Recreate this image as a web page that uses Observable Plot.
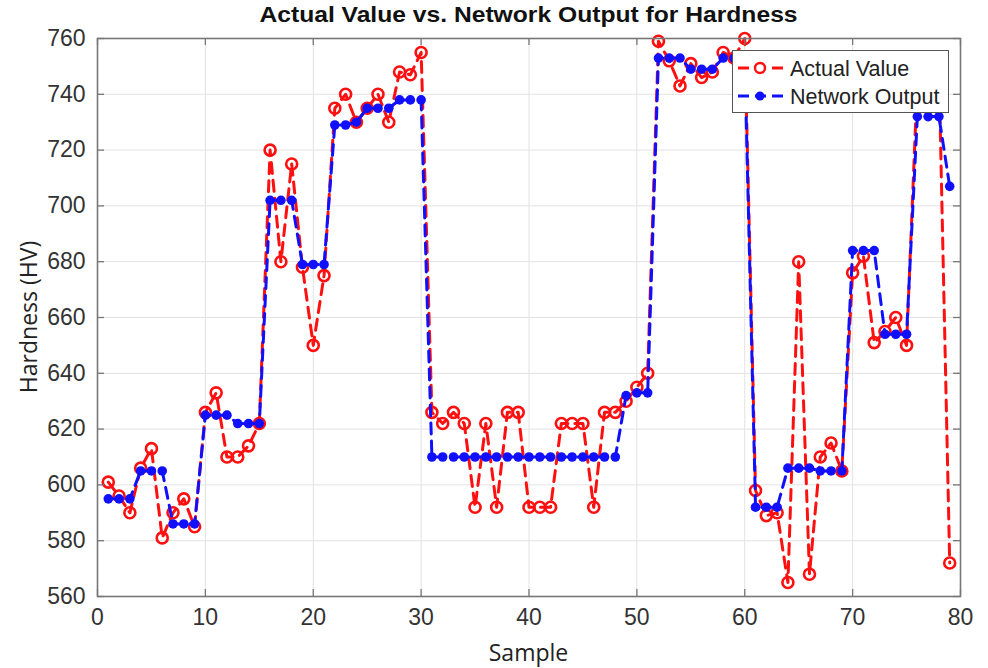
<!DOCTYPE html>
<html>
<head>
<meta charset="utf-8">
<script src="https://cdn.jsdelivr.net/npm/d3@7"></script>
<script src="https://cdn.jsdelivr.net/npm/@observablehq/plot@0.6"></script>
<style>
  body { margin: 0; background: #fff; }
  #wrap { position: relative; width: 988px; height: 668px; overflow: hidden; }
  #title { position: absolute; left: 97px; width: 863px; top: 2px; text-align: center;
           font: bold 22px "Liberation Sans", Arial, sans-serif; color: #111;
           transform: scaleX(1.12); transform-origin: 50% 50%; }
  .axlabel { position: absolute; font: 23px "Open Sans", "Noto Sans", sans-serif; color: #222; white-space: nowrap; }
  #xlabel { left: 97px; width: 863px; text-align: center; top: 636px; }
  #ylabel { left: 28px; top: 317px; transform: translate(-50%, -50%) rotate(-90deg); }
  #legend { position: absolute; left: 732px; top: 50px; width: 215px; height: 61px;
            border: 1px solid #555; background: #fff; }
  #legend svg { position: absolute; left: 0; top: 0; }
</style>
</head>
<body>
<div id="wrap">
  <div id="title">Actual Value vs. Network Output for Hardness</div>
</div>
<script>
// Measured hardness per sample and the network's prediction for it
const actual = [
  601, 596, 590, 606, 613, 581, 590, 595, 585, 626,
  633, 610, 610, 614, 622, 720, 680, 715, 678, 650,
  675, 735, 740, 730, 735, 740, 730, 748, 747, 755,
  626, 622, 626, 622, 592, 622, 592, 626, 626, 592,
  592, 592, 622, 622, 622, 592, 626, 626, 630, 635,
  640, 759, 752, 743, 751, 746, 748, 755, 753, 760,
  598, 589, 590, 565, 680, 568, 610, 615, 605, 676,
  682, 651, 655, 660, 650, 745, 748, 750, 572
];
const network = [
  595, 595, 595, 605, 605, 605, 586, 586, 586, 625,
  625, 625, 622, 622, 622, 702, 702, 702, 679, 679,
  679, 729, 729, 730, 735, 735, 735, 738, 738, 738,
  610, 610, 610, 610, 610, 610, 610, 610, 610, 610,
  610, 610, 610, 610, 610, 610, 610, 610, 632, 633,
  633, 753, 753, 753, 749, 749, 749, 753, 753, 753,
  592, 592, 592, 606, 606, 606, 605, 605, 605, 684,
  684, 684, 654, 654, 654, 732, 732, 732, 707
];
const xTicks = [0, 10, 20, 30, 40, 50, 60, 70, 80];
const yTicks = [560, 580, 600, 620, 640, 660, 680, 700, 720, 740, 760];
const seriesNames = ["Actual Value", "Network Output"];

const rows = actual.map((a, i) => ({sample: i + 1, actual: a, network: network[i]}));

const RED = "#ff1010";
const BLUE = "#1010ff";
const W = 988, H = 668;
const M = {top: 38, right: 28, bottom: 72, left: 97};
const innerH = H - M.top - M.bottom;
const innerW = W - M.left - M.right;
const tickLen = 7;
const axisColor = "#777";
const tickFont = '"Liberation Sans", Arial, sans-serif';

const chart = Plot.plot({
  width: W,
  height: H,
  marginTop: M.top,
  marginRight: M.right,
  marginBottom: M.bottom,
  marginLeft: M.left,
  style: {background: "#fff", overflow: "visible"},
  x: {domain: [0, 80]},
  y: {domain: [560, 760]},
  marks: [
    Plot.gridX(xTicks, {stroke: "#e2e2e2", strokeOpacity: 1, strokeWidth: 1}),
    Plot.gridY(yTicks, {stroke: "#e2e2e2", strokeOpacity: 1, strokeWidth: 1}),
    Plot.line(rows, {x: "sample", y: "actual", stroke: RED, strokeWidth: 3, strokeDasharray: "11,7"}),
    Plot.dot(rows, {x: "sample", y: "actual", r: 5.5, stroke: RED, strokeWidth: 2.6, fill: "none"}),
    Plot.line(rows, {x: "sample", y: "network", stroke: BLUE, strokeWidth: 3, strokeDasharray: "11,7"}),
    Plot.dot(rows, {x: "sample", y: "network", r: 4.8, fill: BLUE, stroke: "none"}),
    Plot.frame({stroke: axisColor, strokeWidth: 1.6}),
    // inward-pointing ticks on all four sides
    Plot.tickX(xTicks, {x: d => d, stroke: axisColor, strokeWidth: 1.3, insetTop: innerH - tickLen}),
    Plot.tickX(xTicks, {x: d => d, stroke: axisColor, strokeWidth: 1.3, insetBottom: innerH - tickLen}),
    Plot.tickY(yTicks, {y: d => d, stroke: axisColor, strokeWidth: 1.3, insetRight: innerW - tickLen}),
    Plot.tickY(yTicks, {y: d => d, stroke: axisColor, strokeWidth: 1.3, insetLeft: innerW - tickLen}),
    Plot.axisX(xTicks, {tickSize: 0, tickPadding: 12, fontSize: 23, fontFamily: tickFont, fill: "#333", label: null}),
    Plot.axisY(yTicks, {tickSize: 0, tickPadding: 12, fontSize: 23, fontFamily: tickFont, fill: "#333", label: null})
  ]
});

const wrap = document.getElementById("wrap");
wrap.insertBefore(chart, wrap.firstChild);

const xl = document.createElement("div");
xl.className = "axlabel"; xl.id = "xlabel"; xl.textContent = "Sample";
wrap.appendChild(xl);
const yl = document.createElement("div");
yl.className = "axlabel"; yl.id = "ylabel"; yl.textContent = "Hardness (HV)";
wrap.appendChild(yl);

// Legend box with a line-and-marker sample for each series
const legend = document.createElement("div");
legend.id = "legend";
const ns = "http://www.w3.org/2000/svg";
const lsvg = document.createElementNS(ns, "svg");
lsvg.setAttribute("width", 215);
lsvg.setAttribute("height", 61);
const styles = [
  {color: RED, hollow: true},
  {color: BLUE, hollow: false}
];
seriesNames.forEach((name, i) => {
  const cy = 17 + i * 28;
  const ln = document.createElementNS(ns, "line");
  ln.setAttribute("x1", 5); ln.setAttribute("x2", 50);
  ln.setAttribute("y1", cy); ln.setAttribute("y2", cy);
  ln.setAttribute("stroke", styles[i].color);
  ln.setAttribute("stroke-width", 3);
  ln.setAttribute("stroke-dasharray", "11,6");
  lsvg.appendChild(ln);
  const c = document.createElementNS(ns, "circle");
  c.setAttribute("cx", 27); c.setAttribute("cy", cy);
  if (styles[i].hollow) {
    c.setAttribute("r", 5); c.setAttribute("fill", "#fff");
    c.setAttribute("stroke", styles[i].color); c.setAttribute("stroke-width", 2.4);
  } else {
    c.setAttribute("r", 4.5); c.setAttribute("fill", styles[i].color);
  }
  lsvg.appendChild(c);
  const t = document.createElementNS(ns, "text");
  t.setAttribute("x", 57); t.setAttribute("y", cy);
  t.setAttribute("dy", "0.35em");
  t.setAttribute("font-family", tickFont);
  t.setAttribute("font-size", 21.5);
  t.setAttribute("fill", "#222");
  t.textContent = name;
  lsvg.appendChild(t);
});
legend.appendChild(lsvg);
wrap.appendChild(legend);
</script>
</body>
</html>
